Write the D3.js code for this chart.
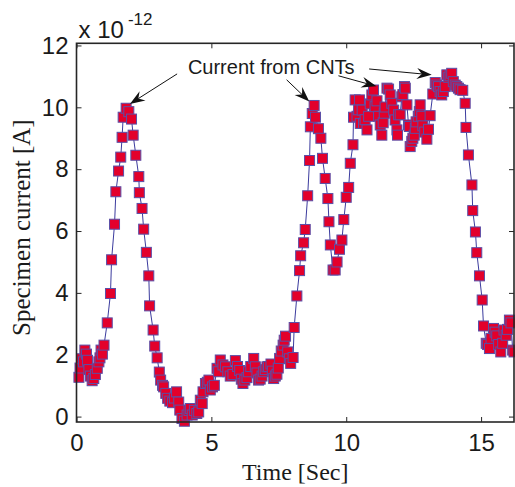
<!DOCTYPE html>
<html><head><meta charset="utf-8">
<script src="https://cdn.jsdelivr.net/npm/d3@7"></script>
<style>body{margin:0;background:#fff}svg{display:block}</style>
</head><body>
<svg id="chart" width="515" height="487"></svg>
<script>
// Specimen current sampled over time (values in units of 1e-12 A)
const timeSec = [
  0.09,0.13,0.19,0.26,0.31,0.37,0.41,0.46,0.52,0.58,0.64,0.70,0.77,0.83,0.87,0.91,0.96,1.02,1.14,1.26,
  1.30,1.41,1.46,1.56,1.64,1.69,1.73,1.84,1.94,2.04,2.10,2.20,2.31,2.33,2.43,2.49,2.59,2.68,2.71,2.84,
  2.90,2.99,3.07,3.12,3.19,3.23,3.31,3.38,3.46,3.56,3.63,3.71,3.79,3.83,3.91,4.00,4.10,4.17,4.22,4.29,
  4.37,4.46,4.53,4.59,4.66,4.69,4.78,4.85,4.91,4.96,5.04,5.11,5.21,5.27,5.33,5.43,5.52,5.61,5.70,5.80,
  5.89,5.97,6.05,6.11,6.17,6.24,6.32,6.38,6.46,6.57,6.63,6.69,6.75,6.81,6.88,6.94,7.00,7.06,7.12,7.21,
  7.26,7.31,7.37,7.43,7.48,7.53,7.59,7.66,7.70,7.75,7.83,7.89,7.94,8.03,8.07,8.17,8.27,8.31,8.42,8.48,
  8.57,8.64,8.67,8.74,8.81,8.86,8.97,9.06,9.12,9.22,9.32,9.36,9.41,9.51,9.59,9.66,9.75,9.84,9.91,10.00,
  10.09,10.15,10.25,10.27,10.33,10.40,10.46,10.49,10.52,10.59,10.64,10.70,10.77,10.83,10.89,10.95,11.01,11.07,11.14,11.20,
  11.26,11.32,11.37,11.41,11.44,11.51,11.57,11.63,11.69,11.76,11.81,11.88,11.90,11.94,12.00,12.06,12.10,12.16,12.19,12.25,
  12.31,12.34,12.37,12.43,12.47,12.52,12.56,12.59,12.67,12.71,12.74,12.80,12.84,12.91,12.99,13.05,13.11,13.21,13.30,13.36,
  13.42,13.48,13.54,13.60,13.67,13.73,13.80,13.85,13.91,13.97,14.04,14.10,14.16,14.22,14.32,14.41,14.44,14.53,14.66,14.69,
  14.79,14.84,14.94,15.04,15.09,15.19,15.24,15.31,15.37,15.46,15.52,15.58,15.65,15.73,15.80,15.85,15.93,15.98,16.05,16.11,
  16.17,16.22
];
const currentPA = [
  1.27,1.57,1.87,1.77,2.15,2.02,1.82,1.52,1.31,1.16,1.23,1.36,1.56,1.77,1.90,2.15,2.02,2.31,3.03,3.98,
  5.07,6.22,7.27,7.94,8.39,9.03,9.68,9.97,9.86,9.62,9.10,8.45,7.76,7.24,6.73,6.06,5.31,4.55,3.58,2.80,
  2.28,1.90,1.44,1.18,1.01,0.96,0.75,0.59,0.50,0.45,0.60,0.80,0.47,0.21,-0.06,-0.15,0.05,0.20,0.26,0.05,
  0.20,0.10,0.15,0.53,0.42,0.80,1.07,1.11,1.18,0.86,0.96,1.01,1.56,1.45,1.83,1.67,1.61,1.45,1.31,1.36,
  1.81,1.62,1.49,1.21,1.07,1.18,1.26,1.45,1.62,1.88,1.61,1.41,1.18,1.21,1.31,1.45,1.52,1.61,1.62,1.70,
  1.47,1.23,1.31,1.37,1.57,1.88,2.12,2.31,2.47,2.60,2.09,1.87,1.72,1.91,2.88,3.90,4.72,5.20,5.62,6.05,
  7.14,8.28,9.37,9.80,10.06,9.68,9.31,9.00,8.35,7.70,7.05,6.30,5.55,4.74,4.74,5.00,5.41,5.71,6.37,7.09,
  7.41,8.19,8.79,9.68,10.24,9.71,9.92,10.24,9.48,9.91,9.48,9.60,9.27,9.71,10.11,10.40,10.56,10.02,10.21,9.71,
  9.43,9.10,9.50,9.81,10.01,10.62,10.59,10.40,10.13,9.91,9.59,9.27,9.10,9.76,9.76,10.34,10.41,10.67,10.62,10.08,
  9.43,9.38,8.73,8.90,9.00,9.10,9.32,9.53,9.71,9.86,10.08,9.71,9.40,9.20,8.97,9.29,9.73,10.43,10.80,10.72,
  10.67,10.51,10.40,10.51,10.67,11.05,10.97,11.02,11.10,10.83,10.72,10.67,10.62,10.57,10.55,10.13,9.35,8.46,7.49,6.66,
  5.97,5.30,4.55,3.77,2.93,2.37,2.33,2.20,2.53,2.85,2.73,2.61,2.33,2.09,2.37,2.80,2.63,2.82,3.12,3.03,
  2.15,2.09
];
const xTicks = [0, 5, 10, 15];
const yTicks = [0, 2, 4, 6, 8, 10, 12];
const xDomain = [0, 16.22];
const yDomain = [-0.175, 12.07];

// Annotation: one label with four arrows (data coordinates)
const noteText = "Current from CNTs";
const noteAnchor = [4.13, 11.08];
const arrowTails = [[3.73, 11.08], [7.79, 10.89], [9.71, 11.02], [10.85, 11.24]];
const arrowTips  = [[1.98, 10.11], [8.63, 10.19], [11.12, 10.68], [13.17, 11.05]];

const svg = d3.select("#chart");
const plot = {left: 76.5, right: 514, top: 43.3, bottom: 422};
const x = d3.scaleLinear().domain(xDomain).range([plot.left, plot.right]);
const y = d3.scaleLinear().domain(yDomain).range([plot.bottom, plot.top]);

const sans = "'Liberation Sans', Arial, Helvetica, sans-serif";
const serif = "'Liberation Serif', 'Times New Roman', serif";
const frameColor = "#262626";

// Axes with inward ticks on all four sides
const tickLen = 5;
const gB = svg.append("g").attr("transform", `translate(0,${plot.bottom})`)
  .call(d3.axisBottom(x).tickValues(xTicks).tickSizeInner(-tickLen).tickSizeOuter(0).tickPadding(12).tickFormat(d3.format("d")));
const gT = svg.append("g").attr("transform", `translate(0,${plot.top})`)
  .call(d3.axisTop(x).tickValues(xTicks).tickSizeInner(-tickLen).tickSizeOuter(0).tickFormat(""));
const gL = svg.append("g").attr("transform", `translate(${plot.left},0)`)
  .call(d3.axisLeft(y).tickValues(yTicks).tickSizeInner(-tickLen).tickSizeOuter(0).tickPadding(8).tickFormat(d3.format("d")));
const gR = svg.append("g").attr("transform", `translate(${plot.right},0)`)
  .call(d3.axisRight(y).tickValues(yTicks).tickSizeInner(-tickLen).tickSizeOuter(0).tickFormat(""));

[gB, gT, gL, gR].forEach(g => {
  g.select(".domain").remove();
  g.selectAll(".tick line").attr("stroke", frameColor).attr("stroke-width", 1);
  g.selectAll(".tick text").attr("fill", "#1a1a1a").style("font-family", sans).style("font-size", "24px");
});
gB.selectAll(".tick text").attr("dy", "0.71em");

// Data line and square markers
const pts = timeSec.map((t, i) => [t, currentPA[i]]);
svg.append("path")
  .datum(pts)
  .attr("fill", "none")
  .attr("stroke", "#3b3b9e")
  .attr("stroke-width", 1)
  .attr("d", d3.line().x(d => x(d[0])).y(d => y(d[1])));

const ms = 10;
svg.append("g").selectAll("rect").data(pts).join("rect")
  .attr("x", d => x(d[0]) - ms / 2)
  .attr("y", d => y(d[1]) - ms / 2)
  .attr("width", ms).attr("height", ms)
  .attr("fill", "#e3002b")
  .attr("stroke", "#5a4fa8")
  .attr("stroke-width", 1);

// Plot frame
svg.append("rect")
  .attr("x", plot.left).attr("y", plot.top)
  .attr("width", plot.right - plot.left).attr("height", plot.bottom - plot.top)
  .attr("fill", "none").attr("stroke", frameColor).attr("stroke-width", 1.6);

// Exponent label
const expo = svg.append("text").attr("x", plot.left + 2).attr("y", 38)
  .style("font-family", sans).style("font-size", "24px").attr("fill", "#1a1a1a");
expo.append("tspan").text("x 10");
expo.append("tspan").attr("dy", -13).attr("dx", 4).style("font-size", "17px").text("-12");

// Axis titles
svg.append("text").attr("x", (plot.left + plot.right) / 2).attr("y", 480)
  .attr("text-anchor", "middle").style("font-family", serif).style("font-size", "24px")
  .attr("fill", "#1a1a1a").text("Time [Sec]");
svg.append("text").attr("transform", `translate(30,${(plot.top + plot.bottom) / 2 - 5}) rotate(-90)`)
  .attr("text-anchor", "middle").style("font-family", serif).style("font-size", "25px")
  .attr("fill", "#1a1a1a").text("Specimen current [A]");

// Annotation text and arrows
svg.append("text").attr("x", x(noteAnchor[0])).attr("y", y(noteAnchor[1]))
  .style("font-family", sans).style("font-size", "20px").attr("fill", "#1a1a1a").text(noteText);

arrowTails.forEach((tail, i) => {
  const tip = arrowTips[i];
  const x0 = x(tail[0]), y0 = y(tail[1]), x1 = x(tip[0]), y1 = y(tip[1]);
  const ang = Math.atan2(y1 - y0, x1 - x0);
  const L = 15, W = 5.5, notch = 10;
  const ux = Math.cos(ang), uy = Math.sin(ang), px = -uy, py = ux;
  const bx = x1 - ux * L, by = y1 - uy * L;
  const nx = x1 - ux * notch, ny = y1 - uy * notch;
  svg.append("line").attr("x1", x0).attr("y1", y0).attr("x2", nx).attr("y2", ny)
    .attr("stroke", "#111").attr("stroke-width", 1);
  svg.append("path")
    .attr("d", `M${x1},${y1}L${bx + px * W},${by + py * W}L${nx},${ny}L${bx - px * W},${by - py * W}Z`)
    .attr("fill", "#111");
});
</script>
</body></html>
